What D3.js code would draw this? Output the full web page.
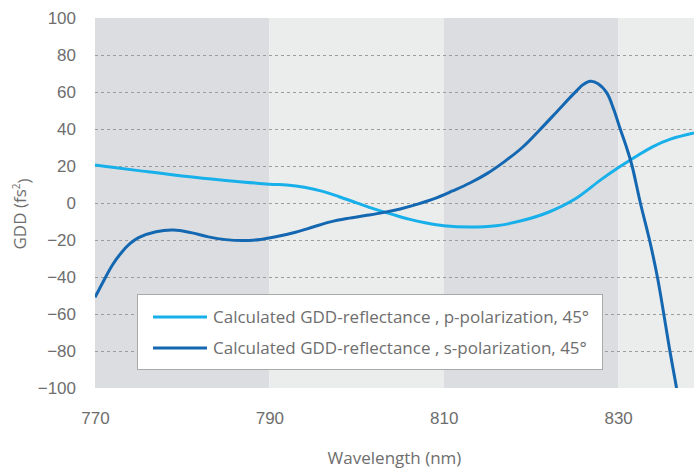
<!DOCTYPE html>
<html>
<head>
<meta charset="utf-8">
<script src="https://cdn.jsdelivr.net/npm/d3@7"></script>
<style>
  html, body { margin: 0; padding: 0; background: #ffffff; }
  svg { display: block; font-family: "Open Sans", "Noto Sans", sans-serif; }
</style>
</head>
<body>
<svg id="chart" width="694" height="468"></svg>
<script>
// Wavelength (nm) and group delay dispersion (fs²) for each polarization
const pWavelength = [770, 772, 775, 780, 785, 790, 792, 794, 796, 798, 800, 802, 804, 806, 808, 810, 813, 816, 819, 822, 825, 828, 830, 832, 834, 836, 838.7];
const pGDD        = [20.5, 19.3, 17.5, 14.6, 12.2, 10.2, 9.7, 8.5, 6.4, 3.4, 0.1, -3.2, -6, -8.7, -10.8, -12.3, -13, -12.3, -9.5, -5, 2, 12.5, 19, 25, 30.5, 34.5, 37.8];

const sWavelength = [770, 771, 772, 773, 774, 775, 777, 779, 781, 783, 785, 787, 789, 791, 793, 795, 797, 799, 801, 803, 805, 807, 809, 811, 813, 815, 817, 819, 821, 823, 825, 826, 826.8, 827.7, 828.7, 829.5, 830.2, 831, 831.6, 832.55, 833.6, 834.5, 835.2, 835.9, 836.7];
const sGDD        = [-51, -42, -33.5, -27, -22, -18.7, -15.5, -14.6, -16, -18.3, -19.8, -20.3, -19.7, -18, -15.8, -13, -10.2, -8.3, -6.8, -5.2, -3.2, -0.6, 2.5, 6.5, 10.8, 16, 22.5, 30, 39.5, 49.5, 59.5, 64, 65.8, 64.5, 59.5, 50.5, 40.5, 29.5, 20, 0, -20, -40, -59, -79, -100];

// Axis ticks and shaded wavelength bands
const xTicks = [770, 790, 810, 830];
const yTicks = [100, 80, 60, 40, 20, 0, -20, -40, -60, -80, -100];
const gridValues = [80, 60, 40, 20, 0, -20, -40, -60, -80];
const bandStarts = [770, 790, 810, 830];
const bandEnds   = [790, 810, 830, 838.7];

const seriesNames = [
  "Calculated GDD-reflectance , p-polarization, 45°",
  "Calculated GDD-reflectance , s-polarization, 45°"
];
const seriesColors = ["#17b0ea", "#1467b1"];

const svg = d3.select("#chart");
const margin = { left: 95, right: 0, top: 18, bottom: 80 };
const width = 694, height = 468;
const textColor = "#6e6e6e";
const fontSize = 17;

const x = d3.scaleLinear().domain([770, 838.7]).range([margin.left, width - margin.right]);
const y = d3.scaleLinear().domain([-100, 100]).range([height - margin.bottom, margin.top]);

// Alternating background bands
svg.append("g").selectAll("rect")
  .data(bandStarts.map((s, i) => ({ s, e: bandEnds[i], i })))
  .join("rect")
  .attr("x", d => x(d.s))
  .attr("width", d => x(d.e) - x(d.s))
  .attr("y", y(100))
  .attr("height", y(-100) - y(100))
  .attr("fill", d => d.i % 2 === 0 ? "#dcdde0" : "#ebecec");

// Dashed horizontal grid
svg.append("g").selectAll("line")
  .data(gridValues)
  .join("line")
  .attr("x1", x(770)).attr("x2", width)
  .attr("y1", d => Math.round(y(d)) + 0.5)
  .attr("y2", d => Math.round(y(d)) + 0.5)
  .attr("stroke", "#9c9c9c")
  .attr("stroke-width", 1)
  .attr("stroke-dasharray", "3,3");

// Y axis labels
const yAxis = d3.axisLeft(y).tickValues(yTicks).tickSize(0).tickPadding(0);
const gy = svg.append("g").attr("transform", `translate(${x(770) - 19},0)`).call(yAxis);
gy.select(".domain").remove();
gy.selectAll("text").attr("fill", textColor).attr("font-size", fontSize).attr("dy", "0.34em");

// X axis labels
const xAxis = d3.axisBottom(x).tickValues(xTicks).tickSize(0).tickPadding(0).tickFormat(d3.format("d"));
const gx = svg.append("g").attr("transform", `translate(0,${y(-100) + 36})`).call(xAxis);
gx.select(".domain").remove();
gx.selectAll("text").attr("fill", textColor).attr("font-size", fontSize).attr("dy", 0);

// Axis titles
svg.append("text")
  .attr("x", (x(770) + width) / 2).attr("y", 464)
  .attr("text-anchor", "middle").attr("fill", textColor).attr("font-size", fontSize)
  .text("Wavelength (nm)");

const yTitle = svg.append("text")
  .attr("transform", `translate(26,214) rotate(-90)`)
  .attr("text-anchor", "middle").attr("fill", textColor).attr("font-size", fontSize);
yTitle.append("tspan").text("GDD (fs");
yTitle.append("tspan").attr("font-size", 10).attr("dy", "-0.6em").text("2");
yTitle.append("tspan").attr("dy", "0.6em").text(")");

// Curves
svg.append("clipPath").attr("id", "plotClip")
  .append("rect").attr("x", x(770)).attr("y", y(100))
  .attr("width", width - x(770)).attr("height", y(-100) - y(100));

const line = d3.line()
  .x(d => x(d[0]))
  .y(d => y(d[1]))
  .curve(d3.curveCatmullRom.alpha(0.5));

const series = [
  d3.zip(pWavelength, pGDD),
  d3.zip(sWavelength, sGDD)
];

svg.append("g").attr("clip-path", "url(#plotClip)")
  .selectAll("path")
  .data(series)
  .join("path")
  .attr("d", line)
  .attr("fill", "none")
  .attr("stroke", (d, i) => seriesColors[i])
  .attr("stroke-width", 3)
  .attr("stroke-linejoin", "round");

// Legend
const legend = svg.append("g");
legend.append("rect")
  .attr("x", 137.5).attr("y", 294.5)
  .attr("width", 465).attr("height", 75)
  .attr("fill", "#ffffff").attr("stroke", "#a9a9a9").attr("stroke-width", 1);

const rows = legend.selectAll("g.row")
  .data(seriesNames)
  .join("g")
  .attr("class", "row")
  .attr("transform", (d, i) => `translate(0,${317 + i * 31})`);
rows.append("line")
  .attr("x1", 153).attr("x2", 207).attr("y1", 0).attr("y2", 0)
  .attr("stroke", (d, i) => seriesColors[i]).attr("stroke-width", 3);
rows.append("text")
  .attr("x", 213).attr("y", 0).attr("dy", "0.34em")
  .attr("fill", textColor).attr("font-size", fontSize)
  .text(d => d);
</script>
</body>
</html>
